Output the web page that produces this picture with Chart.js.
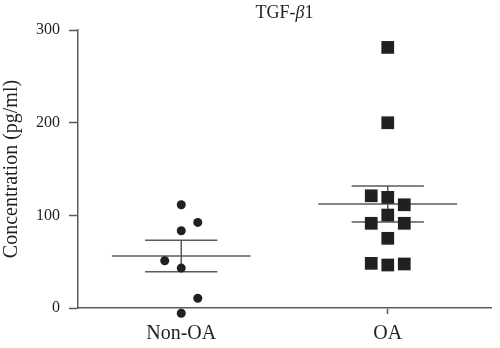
<!DOCTYPE html>
<html>
<head>
<meta charset="utf-8">
<script src="https://cdn.jsdelivr.net/npm/chart.js@4/dist/chart.umd.min.js"></script>
<style>
  html, body { margin: 0; padding: 0; background: #ffffff; }
  #wrap { width: 500px; height: 348px; }
</style>
</head>
<body>
<div id="wrap"><canvas id="c" width="500" height="348"></canvas></div>
<script>
// ---- data ----
const categories = ['Non-OA', 'OA'];
const nonOAValues = [111.4, 92.4, 83.4, 51.0, 43.1, 10.5, -5.7];
const oaValues = [281.2, 199.9, 121.1, 119.4, 111.4, 100.3, 91.4, 91.4, 75.2, 48.2, 47.5, 46.4];
const groupMeans = [56.1, 112.2];
const groupSEM = [16.9, 19.5];
const yTickValues = [0, 100, 200, 300];
const yAxisTitle = 'Concentration (pg/ml)';

// ---- layout / style constants ----
const MIN_GAP = 17;      // values closer than this in one column are spread sideways
const SIDE_STEP = 0.08;  // sideways step, in category units
const MEAN_HALF = 0.336;
const CAP_HALF = 0.175;
const INK = '#231f20';
const LINE = '#5a5a5a';
const SERIF = '"Liberation Serif", "Times New Roman", serif';

function swarm(values, catIndex) {
  const sorted = values.slice().sort((a, b) => a - b);
  const placed = [];
  let toggle = 1;
  const collides = (v, col) => placed.some(p => p.col === col && Math.abs(p.v - v) < MIN_GAP);
  for (const v of sorted) {
    let col = 0;
    if (collides(v, 0)) {
      if (!collides(v, toggle)) col = toggle;
      else if (!collides(v, -toggle)) col = -toggle;
      else col = 2 * toggle;
      toggle = -toggle;
    }
    placed.push({ v, col });
  }
  return placed.map(p => ({ x: catIndex + p.col * SIDE_STEP, y: p.v }));
}

function seg(x1, y1, x2, y2) {
  return {
    data: [{ x: x1, y: y1 }, { x: x2, y: y2 }],
    showLine: true,
    borderColor: LINE,
    borderWidth: 1.5,
    pointRadius: 0,
    pointHoverRadius: 0,
    clip: false
  };
}

const datasets = [
  {
    data: swarm(nonOAValues, 0),
    pointStyle: 'circle',
    pointRadius: 4.5,
    backgroundColor: INK,
    borderWidth: 0,
    clip: false,
    isMarkers: true
  },
  {
    data: swarm(oaValues, 1),
    pointStyle: 'rect',
    pointRadius: 9,
    backgroundColor: INK,
    borderWidth: 0,
    clip: false,
    isMarkers: true
  }
];
categories.forEach((c, i) => {
  const m = groupMeans[i], s = groupSEM[i];
  datasets.push(seg(i - MEAN_HALF, m, i + MEAN_HALF, m));
  datasets.push(seg(i - CAP_HALF, m + s, i + CAP_HALF, m + s));
  datasets.push(seg(i - CAP_HALF, m - s, i + CAP_HALF, m - s));
  datasets.push(seg(i, m - s, i, m + s));
});

// markers whose value lies below the axis (e.g. negative readings) are still drawn
const outsidePoints = {
  id: 'outsidePoints',
  afterDatasetsDraw(chart) {
    const a = chart.chartArea;
    chart.data.datasets.forEach((ds, di) => {
      if (!ds.isMarkers) return;
      chart.getDatasetMeta(di).data.forEach(el => {
        if (el.y > a.bottom || el.y < a.top) el.draw(chart.ctx);
      });
    });
  }
};

const titlePlugin = {
  id: 'centeredTitle',
  afterDraw(chart) {
    const ctx = chart.ctx;
    const a = chart.chartArea;
    const parts = [
      { t: 'TGF-', f: '18px ' + SERIF },
      { t: 'β', f: 'italic 18px ' + SERIF },
      { t: '1', f: '18px ' + SERIF }
    ];
    ctx.save();
    let total = 0;
    parts.forEach(p => { ctx.font = p.f; p.w = ctx.measureText(p.t).width; total += p.w; });
    let x = (a.left + a.right) / 2 - total / 2;
    ctx.fillStyle = INK;
    ctx.textBaseline = 'middle';
    ctx.textAlign = 'left';
    parts.forEach(p => { ctx.font = p.f; ctx.fillText(p.t, x, 13); x += p.w; });
    ctx.restore();
  }
};

new Chart(document.getElementById('c'), {
  type: 'scatter',
  data: { datasets },
  options: {
    responsive: false,
    animation: false,
    layout: { padding: { top: 30, right: 3, left: 0, bottom: 0 } },
    plugins: { legend: { display: false }, tooltip: { enabled: false }, title: { display: false } },
    scales: {
      x: {
        type: 'linear',
        min: -0.5,
        max: 1.5,
        afterBuildTicks: s => { s.ticks = categories.map((c, i) => ({ value: i })); },
        afterFit: s => { s.height = 40; },
        ticks: {
          callback: v => categories[v],
          font: { family: SERIF, size: 20 },
          color: INK,
          padding: 8,
          maxRotation: 0
        },
        grid: { drawOnChartArea: false, tickLength: 6, tickColor: LINE, tickWidth: 1.5 },
        border: { color: LINE, width: 1.5 }
      },
      y: {
        min: 0,
        max: 300,
        afterBuildTicks: s => { s.ticks = yTickValues.map(v => ({ value: v })); },
        afterFit: s => { s.width = 78; },
        ticks: {
          font: { family: SERIF, size: 16 },
          color: INK,
          padding: 9
        },
        title: {
          display: true,
          text: yAxisTitle,
          font: { family: SERIF, size: 20 },
          color: INK,
          padding: { top: 0, bottom: 0 }
        },
        grid: { drawOnChartArea: false, tickLength: 9, tickColor: LINE, tickWidth: 1.5 },
        border: { color: LINE, width: 1.5 }
      }
    }
  },
  plugins: [outsidePoints, titlePlugin]
});
</script>
</body>
</html>
